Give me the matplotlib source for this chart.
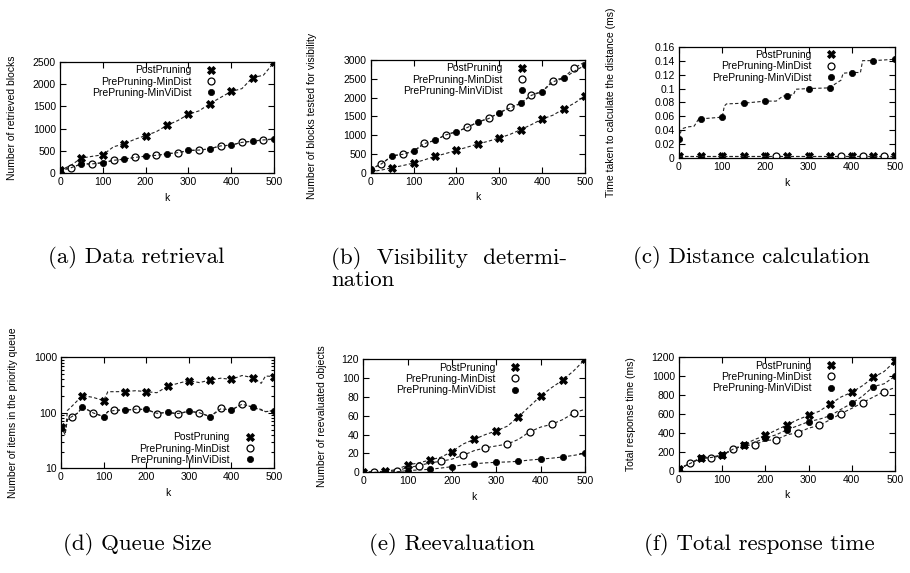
import matplotlib
matplotlib.use('Agg')
import matplotlib.pyplot as plt
from matplotlib.lines import Line2D
from matplotlib.ticker import FixedLocator, FormatStrFormatter, NullFormatter, LogLocator

# ---- data ----
series_names = ['PostPruning', 'PrePruning-MinDist', 'PrePruning-MinViDist']

k = [0, 25, 50, 75, 100, 125, 150, 175, 200, 225, 250, 275, 300, 325, 350, 375, 400, 425, 450, 475, 500]

a_post = [60, 170, 336, 375, 410, 590, 657, 760, 843, 930, 1075, 1180, 1321, 1400, 1560, 1700, 1836, 1900, 2149, 2200, 2490]
a_mindist = [60, 112, 205, 200, 235, 283, 315, 350, 380, 395, 433, 455, 507, 515, 545, 612, 627, 694, 716, 746, 770]
a_minvidist = [60, 115, 209, 205, 231, 285, 313, 350, 380, 398, 433, 458, 507, 517, 545, 610, 627, 690, 716, 745, 760]

b_post = [27, 70, 133, 190, 257, 340, 435, 510, 594, 680, 763, 840, 923, 1020, 1145, 1280, 1429, 1530, 1695, 1850, 2041]
b_mindist = [89, 240, 450, 497, 575, 781, 860, 1012, 1091, 1207, 1349, 1446, 1597, 1739, 1846, 2076, 2160, 2449, 2530, 2786, 2950]
b_minvidist = [89, 235, 444, 490, 568, 775, 861, 1005, 1091, 1200, 1349, 1440, 1597, 1720, 1846, 2060, 2156, 2420, 2511, 2700, 2860]

k_c = [0, 5, 10, 20, 35, 45, 50, 60, 100, 105, 110, 150, 200, 225, 240, 250, 265, 270, 300, 350,
       360, 365, 375, 380, 400, 420, 425, 450, 475, 500]
c_post = [0.004, 0.004, 0.004, 0.004, 0.004, 0.004, 0.004, 0.004, 0.004, 0.004, 0.004, 0.004, 0.004, 0.004, 0.004,
          0.004, 0.004, 0.004, 0.004, 0.004, 0.004, 0.004, 0.004, 0.004, 0.004, 0.004, 0.004, 0.004, 0.004, 0.004]
c_mindist = [0.004, 0.004, 0.004, 0.004, 0.004, 0.004, 0.004, 0.004, 0.004, 0.004, 0.004, 0.004, 0.004, 0.004, 0.004,
             0.004, 0.004, 0.004, 0.004, 0.004, 0.004, 0.004, 0.004, 0.004, 0.004, 0.004, 0.004, 0.004, 0.004, 0.004]
c_minvidist = [0.028, 0.040, 0.043, 0.045, 0.046, 0.056, 0.057, 0.057, 0.059, 0.075, 0.078, 0.079, 0.082, 0.082, 0.089,
               0.090, 0.091, 0.099, 0.100, 0.101, 0.106, 0.108, 0.112, 0.122, 0.123, 0.123, 0.140, 0.140, 0.141, 0.142]

k_d = [0, 10, 15, 25, 40, 50, 75, 100, 110, 125, 150, 175, 200, 225, 250, 275, 300, 325, 350, 375, 400, 425, 450, 470, 480, 500]
d_post = [56, 40, 110, 130, 170, 204, 190, 166, 240, 240, 241, 250, 241, 230, 300, 340, 380, 350, 390, 420, 400, 470, 430, 340, 460, 450]
d_mindist = [55, 45, 75, 83, 100, 128, 100, 86, 105, 112, 112, 115, 115, 97, 102, 95, 107, 100, 86, 120, 112, 145, 126, 115, 105, 110]
d_minvidist = [54, 45, 75, 85, 100, 128, 100, 85, 105, 110, 112, 116, 115, 98, 102, 97, 107, 100, 85, 118, 112, 143, 126, 112, 105, 108]

e_post = [0, 0.5, 1, 3, 7.8, 10, 13, 16, 22, 30, 35, 40, 44, 49, 59, 70, 81, 90, 98, 108, 120]
e_mindist = [0, 0.7, 1, 1.5, 5, 7, 10, 11.7, 14, 18, 23, 26, 28, 30, 35, 43, 48, 51, 56, 63, 67]
e_minvidist = [0, 0, 0, 0.5, 1.8, 2.5, 3.2, 4.5, 6, 8, 9, 10, 10.6, 11, 11.7, 13, 14, 15, 16.3, 18, 20]

f_post = [20, 75, 138, 145, 166, 230, 275, 330, 374, 430, 484, 540, 586, 630, 706, 780, 830, 900, 988, 1050, 1160]
f_mindist = [20, 78, 130, 138, 160, 229, 262, 275, 320, 328, 380, 402, 450, 480, 540, 604, 660, 720, 780, 837, 880]
f_minvidist = [20, 75, 131, 140, 162, 228, 268, 300, 346, 380, 434, 475, 519, 545, 582, 650, 713, 790, 890, 920, 1000]

ylabels = ['Number of retrieved blocks', 'Number of blocks tested for visibility',
           'Time taken to calculate the distance (ms)', 'Number of items in the priority queue',
           'Number of reevaluated objects', 'Total response time (ms)']
captions = ['(a) Data retrieval', '(b)  Visibility  determi-\nnation', '(c) Distance calculation',
            '(d) Queue Size', '(e) Reevaluation', '(f) Total response time']

plt.rcParams['font.family'] = 'Liberation Sans'
plt.rcParams['font.size'] = 7.5

W, H = 910, 573
fig = plt.figure(figsize=(W / 100, H / 100), dpi=100)


def add_ax(l, r, t, b):
    return fig.add_axes([l / W, 1 - b / H, (r - l) / W, (b - t) / H])


styles = [
    dict(marker='X', ms=5.5, mfc='black', mec='black', mew=0.6),
    dict(marker='o', ms=5, mfc='white', mec='black', mew=0.9),
    dict(marker='o', ms=4.5, mfc='black', mec='black', mew=0.5),
]


def panel(ax, xs, ys_list, ylabel, yticks, ylim, label_x, leg_anchor, leg_loc='upper right', log=False):
    for i, ys in enumerate(ys_list):
        off = 25 if i == 1 else 0
        idx = [j for j, v in enumerate(xs) if v % 50 == off]
        ax.plot(xs, ys, ls=(0, (3, 2)), lw=0.8, color='#222222', markevery=idx, **styles[i])
    ax.set_xlim(0, 500)
    if log:
        ax.set_yscale('log')
        ax.yaxis.set_major_locator(FixedLocator(yticks))
        ax.yaxis.set_minor_locator(LogLocator(base=10, subs=range(2, 10)))
        ax.yaxis.set_minor_formatter(NullFormatter())
    else:
        ax.set_yticks(yticks)
    ax.yaxis.set_major_formatter(FormatStrFormatter('%g'))
    ax.set_ylim(*ylim)
    ax.set_xticks([0, 100, 200, 300, 400, 500])
    ax.tick_params(which='both', direction='in', top=True, right=True, length=4, width=0.8, pad=3)
    ax.tick_params(which='minor', length=2)
    for s in ax.spines.values():
        s.set_linewidth(0.9)
    ax.set_xlabel('k', labelpad=4)
    ax.set_ylabel(ylabel)
    ax.yaxis.set_label_coords(label_x, 0.5)
    handles = [Line2D([], [], ls='none', **styles[i]) for i in range(3)]
    ax.legend(handles, series_names, loc=leg_loc, bbox_to_anchor=leg_anchor, frameon=False,
              markerfirst=False, handlelength=1.0, handletextpad=1.4, borderpad=0,
              borderaxespad=0, labelspacing=0.12, fontsize=7.5)


ax = add_ax(60, 274, 62, 173)
panel(ax, k, [a_post, a_mindist, a_minvidist], ylabels[0], range(0, 2501, 500), (0, 2500), -0.2,
      (0.73, 0.97))

ax = add_ax(370.7, 585, 60, 172.7)
panel(ax, k, [b_post, b_mindist, b_minvidist], ylabels[1], range(0, 3001, 500), (0, 3000), -0.25,
      (0.73, 0.97))

ax = add_ax(679, 895, 46.7, 158.3)
panel(ax, k_c, [c_post, c_mindist, c_minvidist], ylabels[2],
      [0, 0.02, 0.04, 0.06, 0.08, 0.1, 0.12, 0.14, 0.16], (0, 0.16), -0.29, (0.73, 0.97))

ax = add_ax(61, 274, 357.3, 468.3)
panel(ax, k_d, [d_post, d_mindist, d_minvidist], ylabels[3], [10, 100, 1000], (10, 1000), -0.2,
      (0.91, 0.03), leg_loc='lower right', log=True)

ax = add_ax(363.3, 585, 359.3, 472.3)
panel(ax, k, [e_post, e_mindist, e_minvidist], ylabels[4], range(0, 121, 20), (0, 120), -0.165,
      (0.71, 0.97))

ax = add_ax(679, 895, 357.3, 470.7)
panel(ax, k, [f_post, f_mindist, f_minvidist], ylabels[5], range(0, 1201, 200), (0, 1200), -0.2,
      (0.73, 0.97))

cap_pos = [(48, 258), (331, 258), (633, 258), (63, 545), (369, 545), (644, 545)]
for (cx, cy), txt in zip(cap_pos, captions):
    if '\n' in txt:
        fig.text(cx / W, 1 - (cy - 11) / H, txt, family='cmr10', fontsize=16.5, ha='left', va='top',
                 linespacing=1.05)
    else:
        fig.text(cx / W, 1 - cy / H, txt, family='cmr10', fontsize=16.5, ha='left', va='center')

fig.savefig('out.png', dpi=100)
